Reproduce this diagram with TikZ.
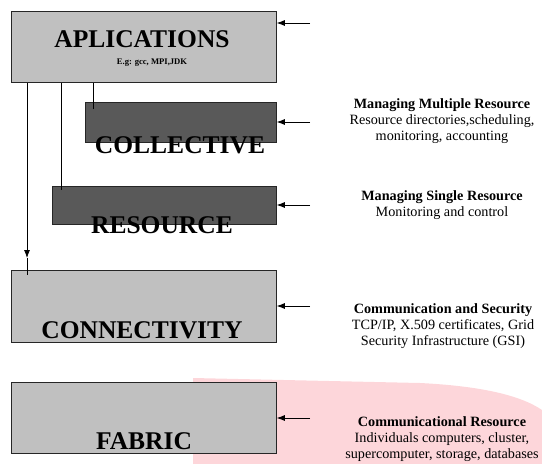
\documentclass[tikz,border=0pt]{standalone}
\usepackage{fontspec}
\setmainfont{Liberation Serif}
\usetikzlibrary{arrows.meta}
\definecolor{lightbox}{RGB}{192,192,192}
\definecolor{darkbox}{RGB}{89,89,89}
\definecolor{pinkbg}{RGB}{253,214,218}
\tikzset{
  layerbox/.style={rectangle, draw=black!85, line width=0.8pt, anchor=north west, inner sep=0pt},
  lightlayer/.style={layerbox, fill=lightbox},
  darklayer/.style={layerbox, fill=darkbox},
  bigtitle/.style={font=\bfseries\fontsize{25.5}{27}\selectfont, inner sep=0pt},
  desc/.style={align=center, font=\fontsize{14.2}{16}\selectfont, inner sep=0pt},
  arr/.style={-{Latex[length=8pt,width=6pt]}, line width=0.8pt},
  plain/.style={line width=0.8pt}
}
\begin{document}
\begin{tikzpicture}[x=1pt,y=-1pt]
\useasboundingbox (0,0) rectangle (542,464);
% pink background shape
\fill[pinkbg] (193,464) -- (193,378) -- (420,383) .. controls (480,386) and (520,395) .. (542,410) -- (542,464) -- cycle;
% boxes
\node[lightlayer, minimum width=265pt, minimum height=71pt] (app) at (11,11) {};
\node[darklayer, minimum width=191pt, minimum height=40pt] (coll) at (85,102) {};
\node[darklayer, minimum width=224pt, minimum height=38pt] (res) at (52,186) {};
\node[lightlayer, minimum width=265pt, minimum height=72pt] (conn) at (11,270) {};
\node[lightlayer, minimum width=265pt, minimum height=71pt] (fab) at (11,382) {};
% box labels
\node[bigtitle] (appt) at (142,39) {APLICATIONS};
\node[font=\bfseries\fontsize{8.6}{9}\selectfont, inner sep=0pt] (appsub) at (152,63) {E.g: gcc, MPI,JDK};
\node[bigtitle] (collt) at (180,145) {COLLECTIVE};
\node[bigtitle] (rest) at (162,225) {RESOURCE};
\node[bigtitle] (connt) at (142,330) {CONNECTIVITY};
\node[bigtitle] (fabt) at (144,441) {FABRIC};
% vertical connectors
\draw[arr] ([xshift=16pt]app.south west) -- ([xshift=16pt,yshift=12pt]conn.north west);
\draw[plain] ([xshift=16pt,yshift=12pt]conn.north west) -- ([xshift=16pt,yshift=-5pt]conn.north west);
\draw[plain] ([xshift=50pt]app.south west) -- ([xshift=9pt,yshift=-4pt]res.north west);
\draw[plain] ([xshift=82pt]app.south west) -- ([xshift=8pt,yshift=-7pt]coll.north west);
% right arrows
\coordinate (s1) at (310,23);
\coordinate (s2) at (310,122);
\coordinate (s3) at (310,205);
\coordinate (s4) at (310,306);
\coordinate (s5) at (310,418);
\draw[arr] (s1) -- (app.east |- s1);
\draw[arr] (s2) -- (coll.east |- s2);
\draw[arr] (s3) -- (res.east |- s3);
\draw[arr] (s4) -- (conn.east |- s4);
\draw[arr] (s5) -- (fab.east |- s5);
% descriptions
\node[desc] (d2) at (442,121) {\textbf{Managing Multiple Resource}\\Resource directories,scheduling,\\monitoring, accounting};
\node[desc] (d3) at (442,205) {\textbf{Managing Single Resource}\\Monitoring and control};
\node[desc] (d4) at (443,326) {\textbf{Communication and Security}\\TCP/IP, X.509 certificates, Grid\\Security Infrastructure (GSI)};
\node[desc] (d5) at (442,439) {\textbf{Communicational Resource}\\Individuals computers, cluster,\\supercomputer, storage, databases};
\end{tikzpicture}
\end{document}
